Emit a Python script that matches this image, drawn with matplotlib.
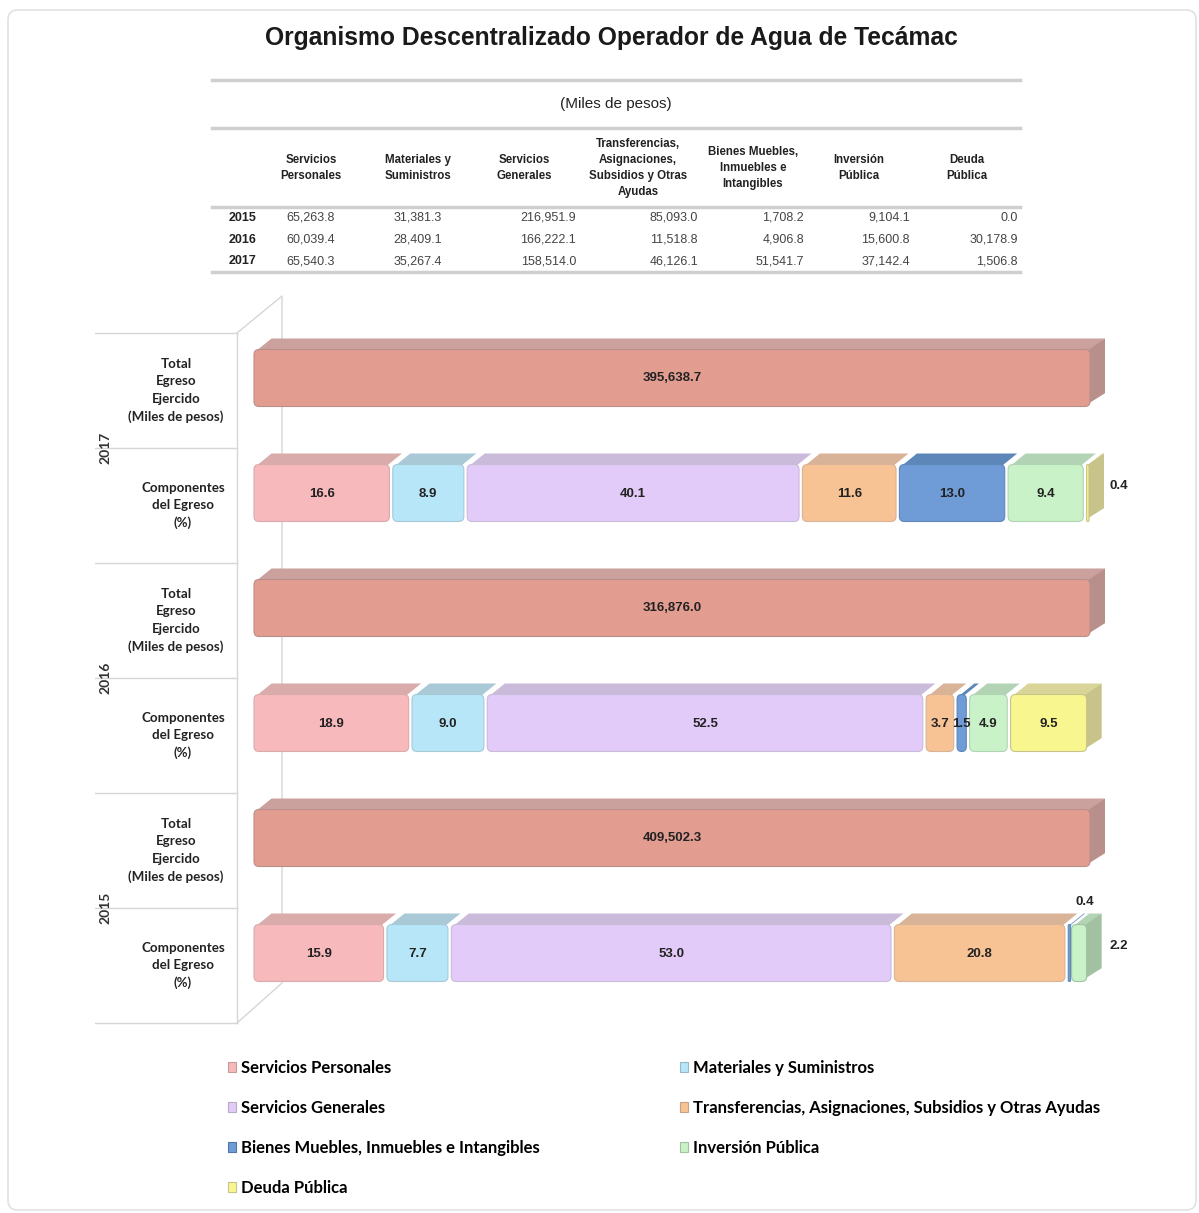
import numpy as np
import matplotlib
matplotlib.use('Agg')
import matplotlib.pyplot as plt
from matplotlib import font_manager
from matplotlib.lines import Line2D
from matplotlib.patches import FancyBboxPatch, Polygon, Patch

# ---- data -------------------------------------------------------------
categories = [
    'Servicios Personales',
    'Materiales y Suministros',
    'Servicios Generales',
    'Transferencias, Asignaciones, Subsidios y Otras Ayudas',
    'Bienes Muebles, Inmuebles e Intangibles',
    'Inversión Pública',
    'Deuda Pública',
]
table_headers = [
    'Servicios\nPersonales',
    'Materiales y\nSuministros',
    'Servicios\nGenerales',
    'Transferencias,\nAsignaciones,\nSubsidios y Otras\nAyudas',
    'Bienes Muebles,\nInmuebles e\nIntangibles',
    'Inversión\nPública',
    'Deuda\nPública',
]
years = [2015, 2016, 2017]
amounts_2015 = [65263.8, 31381.3, 216951.9, 85093.0, 1708.2, 9104.1, 0.0]
amounts_2016 = [60039.4, 28409.1, 166222.1, 11518.8, 4906.8, 15600.8, 30178.9]
amounts_2017 = [65540.3, 35267.4, 158514.0, 46126.1, 51541.7, 37142.4, 1506.8]

totals = {2017: 395638.7, 2016: 316876.0, 2015: 409502.3}
pct_2017 = [16.6, 8.9, 40.1, 11.6, 13.0, 9.4, 0.4]
pct_2016 = [18.9, 9.0, 52.5, 3.7, 1.5, 4.9, 9.5]
pct_2015 = [15.9, 7.7, 53.0, 20.8, 0.4, 2.2, 0.0]

# ---- style ------------------------------------------------------------
front_colors = ['#f7b9bb', '#b6e6f8', '#e2cbf8', '#f7c395', '#6f9bd6', '#caf2c9', '#f8f78f']
top_colors = ['#d9abab', '#a9c9d7', '#cbbbda', '#d8b398', '#5e87b9', '#b3d3b5', '#d9d598']
side_colors = ['#c99a9a', '#97b8c6', '#b9a9c8', '#c6a185', '#4f76a6', '#a1c1a2', '#c8c38a']
total_front, total_top, total_side = '#e29c90', '#caa19c', '#b98f8b'

names = {f.name for f in font_manager.fontManager.ttflist}
NARROW = 'Liberation Sans Narrow' if 'Liberation Sans Narrow' in names else 'Liberation Sans'
CAL = 'Lato'

W, H = 1199, 1213
PX_X = 8.36      # pixels per percent unit
PX_Y = 115.0     # pixels per row
DX, DY = 15 / PX_X, 11 / PX_Y
BAR_H = 57 / PX_Y
ASPECT = (5 / PX_Y) / (5 / PX_X)


def fx(px):
    return px / W


def fy(py):
    return 1 - py / H


def dxp(px):
    return (px - 254) / PX_X


def dyp(py):
    return (py - 333) / PX_Y - 0.5


def draw_segment(ax, x0, w, yc, front, top, side=None, gap=0.4):
    gap = min(gap, w * 0.3)
    we = w - gap
    rs = min(0.6, we / 2)
    ytop, ybot = yc - BAR_H / 2, yc + BAR_H / 2
    ins = min(0.3, we / 4)
    rin = 0 if side is not None else ins
    ax.add_patch(Polygon([(x0 + ins, ytop + 0.01), (x0 + we - rin, ytop + 0.01),
                          (x0 + we + DX - rin, ytop - DY), (x0 + DX + ins, ytop - DY)],
                         closed=True, fc=top, ec='none', zorder=2))
    if side is not None:
        ax.add_patch(Polygon([(x0 + we - 0.3, ytop + 0.01), (x0 + we - 0.3, ybot - 0.02),
                              (x0 + we + DX, ybot - DY - 0.02), (x0 + we + DX, ytop - DY)],
                             closed=True, fc=side, ec='none', zorder=2))
    ax.add_patch(FancyBboxPatch((x0, ytop), we, BAR_H,
                                boxstyle=f'round,pad=0,rounding_size={rs}',
                                mutation_aspect=ASPECT, fc=front, ec=side or top,
                                lw=0.8, zorder=3))


def main():
    fig = plt.figure(figsize=(W / 100, H / 100), dpi=100)

    # outer frame
    fig.add_artist(FancyBboxPatch((fx(8), fy(1210)), fx(1196) - fx(8), fy(10) - fy(1210),
                                  boxstyle='round,pad=0,rounding_size=0.008',
                                  transform=fig.transFigure, fc='none', ec='#e2e2e2', lw=1.2))

    # title
    fig.text(fx(611), fy(38), 'Organismo Descentralizado Operador de Agua de Tecámac',
             ha='center', va='center', fontsize=17.7, fontweight='bold',
             family='Liberation Sans', color='#1a1a1a')

    # ---- table ----
    for py in (80, 128, 207, 272):
        fig.add_artist(Line2D([fx(212), fx(1020)], [fy(py), fy(py)], color='#cfcfcf', lw=2.5))
    fig.text(fx(616), fy(104), '(Miles de pesos)', ha='center', va='center',
             fontsize=11, family=NARROW, color='#222')
    head_x = [311, 418, 524, 638, 753, 859, 967]
    val_x = [335, 442, 576, 698, 804, 910, 1018]
    for hx, ht in zip(head_x, table_headers):
        fig.text(fx(hx), fy(168), ht, ha='center', va='center', fontsize=8.3,
                 fontweight='bold', family=NARROW, color='#222', linespacing=1.45)
    for yr, vals, py in zip(years, [amounts_2015, amounts_2016, amounts_2017], (218, 240, 261)):
        fig.text(fx(229), fy(py), str(yr), ha='left', va='center', fontsize=9,
                 fontweight='bold', family=NARROW, color='#222')
        for vx, v in zip(val_x, vals):
            fig.text(fx(vx), fy(py), f'{v:,.1f}', ha='right', va='center', fontsize=9,
                     family=NARROW, color='#444')

    # ---- chart ----
    ax = fig.add_axes([fx(95), fy(1030), fx(1140) - fx(95), fy(290) - fy(1030)])
    ax.set_xlim(dxp(95), dxp(1140))
    ax.set_ylim(dyp(1030), dyp(290))
    ax.axis('off')

    wall = dict(color='#d6d6d6', lw=1, zorder=1)
    for r in np.arange(-0.5, 6.0, 1.0):
        ax.plot([dxp(95), dxp(237)], [r, r], **wall)
    ax.plot([dxp(237), dxp(237)], [-0.5, 5.5], **wall)
    ax.plot([dxp(237), dxp(282), dxp(282), dxp(237)],
            [-0.5, dyp(296), dyp(983), 5.5], **wall)

    shift = -12.5 / PX_Y
    pct_rows = {2017: pct_2017, 2016: pct_2016, 2015: pct_2015}
    outside = {(2017, 6): 'right', (2015, 4): 'above', (2015, 5): 'right'}
    lab_font = dict(family=NARROW, fontweight='bold', fontsize=9.5, color='#222')
    row_font = dict(family=CAL, fontweight='bold', fontsize=9.6, color='#222',
                    linespacing=1.52)

    for i, yr in enumerate([2017, 2016, 2015]):
        r_tot, r_cmp = 2 * i, 2 * i + 1

        # total bar
        yc = r_tot + shift
        draw_segment(ax, 0, 100, yc, total_front, total_top, total_side, gap=0)
        ax.text(50, yc, f'{totals[yr]:,.1f}', ha='center', va='center', zorder=5, **lab_font)

        # component bar
        yc = r_cmp + shift
        vals = pct_rows[yr]
        lefts = np.concatenate([[0], np.cumsum(vals)[:-1]])
        last = max(k for k, v in enumerate(vals) if v > 0)
        for k, (x0, v) in enumerate(zip(lefts, vals)):
            if v <= 0:
                continue
            draw_segment(ax, x0, v, yc, front_colors[k], top_colors[k],
                         side_colors[k] if k == last else None)
            pos = outside.get((yr, k))
            if pos == 'right':
                ax.text(100 + DX + 1.6, yc - 0.06, f'{v:.1f}', ha='center', va='center',
                        zorder=5, **lab_font)
            elif pos == 'above':
                ax.text(x0 + v / 2 + DX, yc - BAR_H / 2 - DY - 0.1, f'{v:.1f}',
                        ha='center', va='center', zorder=5, **lab_font)
            else:
                ax.text(x0 + v / 2 - 0.2, yc + 0.01, f'{v:.1f}', ha='center', va='center',
                        zorder=5, **lab_font)

        # row labels
        ax.text(dxp(176), r_tot, 'Total\nEgreso\nEjercido\n(Miles de pesos)', ha='center',
                va='center', **row_font)
        ax.text(dxp(183), r_cmp, 'Componentes\ndel Egreso\n(%)', ha='center',
                va='center', **row_font)
        ax.text(dxp(105), r_tot + 0.5, str(yr), ha='center', va='center', rotation=90,
                family=CAL, fontweight='bold', fontsize=10, color='#333')

    # ---- legend ----
    order = [0, 2, 4, 6, 1, 3, 5]
    handles = [Patch(fc=front_colors[k], ec=side_colors[k], lw=0.8) for k in order]
    fig.legend(handles, [categories[k] for k in order], ncol=2, loc='upper left',
               bbox_to_anchor=(fx(213), fy(1045)), frameon=False,
               handlelength=0.5, handleheight=0.5, handletextpad=0.3,
               labelspacing=1.44, columnspacing=8.4,
               prop=dict(family=CAL, weight='bold', size=12))

    fig.savefig('out.png', dpi=100, facecolor='white')


if __name__ == '__main__':
    main()
